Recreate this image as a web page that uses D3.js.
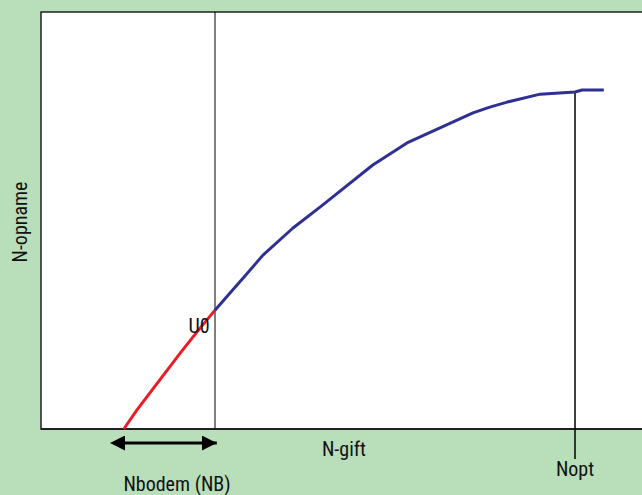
<!DOCTYPE html>
<html><head><meta charset="utf-8">
<script src="https://cdn.jsdelivr.net/npm/d3@7"></script>
<style>html,body{margin:0;padding:0;background:#b9deba;}svg{display:block;}</style>
</head><body>
<svg id="c" width="642" height="495"></svg>
<script>
// Soil-supply part (red) and fertilizer part (blue) of the N-uptake curve
const redX = [13.8, 16.0, 19.8, 23.2, 26.0, 29.0];
const redY = [0, 4.6, 11.8, 18.2, 23.3, 28.5];
const blueX = [29.0, 31.5, 33.7, 37.0, 42.0, 46.5, 55.3, 61.0, 66.5, 72.0, 74.8, 77.7, 83.2, 89.0, 90.2, 93.8];
const blueY = [28.5, 32.6, 36.2, 41.7, 48.2, 53.2, 63.3, 68.6, 72.2, 75.8, 77.2, 78.4, 80.3, 80.8, 81.3, 81.3];
const u0X = 29.0;       // vertical line through U0
const noptX = 89.0;     // Nopt
const noptY = 80.8;
const nbStart = 14.0, nbEnd = 29.3;
const labels = {x: "N-gift", y: "N-opname", u0: "U0", nb: "Nbodem (NB)", nopt: "Nopt"};

const svg = d3.select("#c");
const W = 642, H = 495;
const x = d3.scaleLinear().domain([0, 100]).range([41, 641]);
const y = d3.scaleLinear().domain([0, 100]).range([429, 12]);
const font = "'Liberation Sans Narrow','Roboto Condensed','Liberation Sans',sans-serif";

svg.append("rect").attr("width", W).attr("height", H).attr("fill", "#b9deba");
// plot area
svg.append("rect").attr("x", x(0)).attr("y", y(100)).attr("width", W - x(0) + 5).attr("height", y(0) - y(100))
  .attr("fill", "#fff").attr("stroke", "#222").attr("stroke-width", 1.5);

// vertical line at U0
svg.append("line").attr("x1", x(u0X)).attr("x2", x(u0X)).attr("y1", y(100)).attr("y2", y(0))
  .attr("stroke", "#000").attr("stroke-width", 1);
// Nopt line
svg.append("line").attr("x1", x(noptX)).attr("x2", x(noptX)).attr("y1", y(noptY)).attr("y2", y(0) + 30)
  .attr("stroke", "#000").attr("stroke-width", 1.5);
// x axis line
svg.append("line").attr("x1", x(0)).attr("x2", W).attr("y1", y(0)).attr("y2", y(0))
  .attr("stroke", "#111").attr("stroke-width", 1.5);

const line = d3.line().x(d => x(d[0])).y(d => y(d[1]));
svg.append("path").datum(redX.map((v, i) => [v, redY[i]])).attr("d", line)
  .attr("fill", "none").attr("stroke", "#ed1c24").attr("stroke-width", 3).attr("stroke-linejoin", "round");
svg.append("path").datum(blueX.map((v, i) => [v, blueY[i]])).attr("d", line)
  .attr("fill", "none").attr("stroke", "#2e3192").attr("stroke-width", 3).attr("stroke-linejoin", "round");

// double arrow for Nbodem
const defs = svg.append("defs");
["s", "e"].forEach(k => {
  defs.append("marker").attr("id", "m" + k).attr("viewBox", "0 0 10 10").attr("refX", k === "e" ? 10 : 0).attr("refY", 5)
    .attr("markerWidth", 5).attr("markerHeight", 5).attr("markerUnits", "strokeWidth").attr("orient", "auto-start-reverse")
    .append("path").attr("d", "M0,0 L10,5 L0,10 Z").attr("fill", "#000");
});
svg.append("line").attr("x1", x(nbStart)).attr("x2", x(nbEnd)).attr("y1", 443).attr("y2", 443)
  .attr("stroke", "#000").attr("stroke-width", 3)
  .attr("marker-start", "url(#ms)").attr("marker-end", "url(#me)");

const txt = (s, tx, ty, anchor) => svg.append("text").attr("x", tx).attr("y", ty).attr("text-anchor", anchor || "middle")
  .attr("font-family", font).attr("font-size", 20).attr("fill", "#111").text(s);
txt(labels.x, 344, 456);
txt(labels.nb, 177, 491);
txt(labels.nopt, x(noptX), 476);
txt(labels.u0, 199, 333);
svg.append("text").attr("transform", "translate(27,222) rotate(-90)").attr("text-anchor", "middle")
  .attr("font-family", font).attr("font-size", 20).attr("fill", "#111").text(labels.y);
</script>
</body></html>
